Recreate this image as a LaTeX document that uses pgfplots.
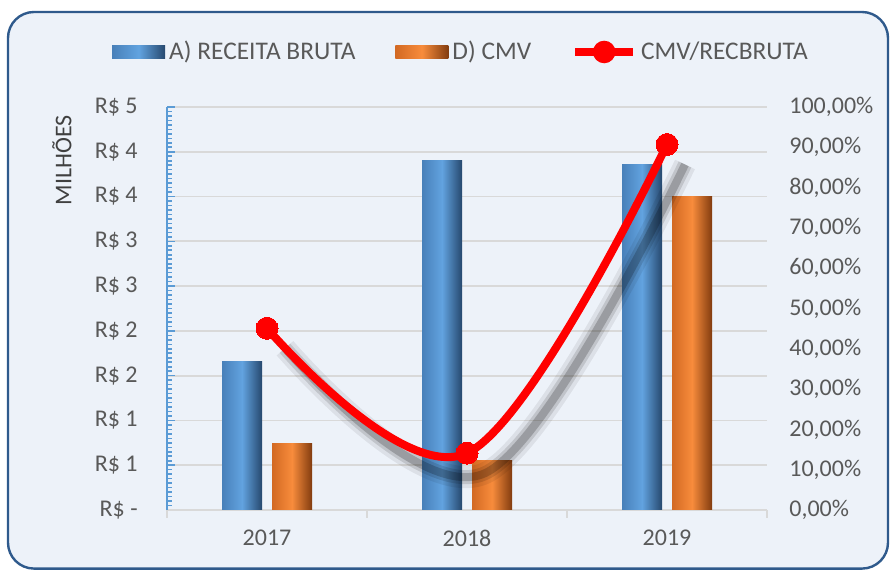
\documentclass[border=0pt]{standalone}
\usepackage{pgfplots}
\pgfplotsset{compat=1.18}
\usepackage{fontspec}
\setmainfont{Carlito}
\definecolor{bg}{RGB}{237,242,249}
\definecolor{framec}{RGB}{47,90,140}
\definecolor{txt}{RGB}{89,89,89}
\definecolor{txtd}{RGB}{64,64,64}
\definecolor{gridc}{RGB}{217,217,217}
\definecolor{axblue}{RGB}{91,155,213}
\definecolor{bL}{RGB}{72,128,185}
\definecolor{bM}{RGB}{98,163,224}
\definecolor{bR}{RGB}{38,72,110}
\definecolor{oL}{RGB}{210,105,35}
\definecolor{oM}{RGB}{248,140,60}
\definecolor{oR}{RGB}{130,60,15}
\pgfplotsset{
  barleg/.style={legend image code/.code={\fill[##1] (-1pt,-3.2pt) rectangle (25.5pt,3.2pt);}},
  lineleg/.style={legend image code/.code={\draw[red, line width=4pt] (0pt,0pt) -- (29pt,0pt); \fill[red] (14.5pt,0pt) circle (3.6pt);}},
  bluebar/.style={ybar, bar width=20pt, bar shift=-12.5pt, draw=none, left color=bL, right color=bR, middle color=bM, barleg},
  orangebar/.style={ybar, bar width=20pt, bar shift=12.5pt, draw=none, left color=oL, right color=oR, middle color=oM, barleg},
  shadowline/.style={smooth, tension=0.6, black, xshift=9pt, yshift=-10pt, forget plot},
}
\begin{document}
\fontsize{12}{14}\selectfont
\begin{tikzpicture}
\path[use as bounding box] (0,0) rectangle (445pt,285.5pt);
\draw[fill=bg, draw=framec, line width=1.2pt, rounded corners=13pt] (4pt,1.2pt) rectangle (444pt,279.5pt);
\begin{axis}[
  at={(83.5pt,30.5pt)}, anchor=south west,
  width=300pt, height=201.5pt, scale only axis,
  xmin=-0.5, xmax=2.5, ymin=0, ymax=4.5,
  axis x line*=bottom, axis y line*=left,
  x axis line style={draw=gridc, line width=1pt, -},
  y axis line style={draw=axblue, line width=1pt, -},
  ytick={0,0.5,1,1.5,2,2.5,3,3.5,4,4.5},
  yticklabels={R\$ -\hspace{6pt}, R\$ 1, R\$ 1, R\$ 2, R\$ 2, R\$ 3, R\$ 3, R\$ 4, R\$ 4, R\$ 5},
  minor y tick num=9,
  ytick align=inside,
  major tick length=4pt, minor tick length=2.5pt,
  y tick style={draw=axblue, line width=0.8pt},
  ymajorgrids, major grid style={draw=gridc, line width=0.9pt},
  xtick={-0.5,0.5,1.5,2.5}, xticklabels={},
  xtick align=outside,
  x tick style={draw=gridc, line width=1pt},
  extra x ticks={0,1,2}, extra x tick labels={2017,2018,2019},
  extra x tick style={major tick length=0pt, grid=none},
  xticklabel style={yshift=-6pt},
  yticklabel style={anchor=east, xshift=-10.5pt},
  tick label style={text=txt, font=\fontsize{12}{14}\selectfont},
  /pgf/number format/assume math mode=true,
  ylabel={MILHÕES},
  every axis y label/.style={at={(axis description cs:0,0.868)}, xshift=-52.5pt, rotate=90, anchor=center, text=txtd, font=\fontsize{12}{14}\selectfont},
  legend columns=3,
  legend style={at={(0.4917,1.1365)}, anchor=center, draw=none, fill=none, text=txt,
    font=\fontsize{12.7}{14}\selectfont,
    /tikz/every even column/.append style={column sep=18pt}},
]
\addplot[bluebar] coordinates {(0,1.657)};
\addlegendentry{A) RECEITA BRUTA}
\addplot[orangebar] coordinates {(0,0.747)};
\addlegendentry{D) CMV}
\addlegendimage{red, line width=4pt, lineleg}
\addlegendentry{CMV/RECBRUTA}
\addplot[bluebar, forget plot] coordinates {(1,3.904)};
\addplot[bluebar, forget plot] coordinates {(2,3.859)};
\addplot[orangebar, forget plot] coordinates {(1,0.550)};
\addplot[orangebar, forget plot] coordinates {(2,3.502)};
\end{axis}
\begin{axis}[
  at={(83.5pt,30.5pt)}, anchor=south west,
  width=300pt, height=201.5pt, scale only axis,
  xmin=-0.5, xmax=2.5, ymin=0, ymax=100,
  axis x line=none, axis y line*=right,
  y axis line style={draw=none},
  ytick={0,10,20,30,40,50,60,70,80,90,100},
  ytick style={draw=none},
  yticklabel={\pgfmathprintnumber[fixed,fixed zerofill,precision=2,use comma]{\tick}\%},
  yticklabel style={anchor=west, xshift=7pt, text=txt, font=\fontsize{12}{14}\selectfont},
  /pgf/number format/assume math mode=true,
]
\addplot[shadowline, opacity=0.07, line width=11pt] coordinates {(0,45.1) (1,14.1) (2,90.7)};
\addplot[shadowline, opacity=0.12, line width=7pt] coordinates {(0,45.1) (1,14.1) (2,90.7)};
\addplot[shadowline, opacity=0.2, line width=4pt] coordinates {(0,45.1) (1,14.1) (2,90.7)};
\addplot[smooth, tension=0.6, red, line width=4pt, mark=*, mark size=5.5pt,
  mark options={fill=red, draw=red, line width=0pt}] coordinates {(0,45.1) (1,14.1) (2,90.7)};
\end{axis}
\end{tikzpicture}
\end{document}
